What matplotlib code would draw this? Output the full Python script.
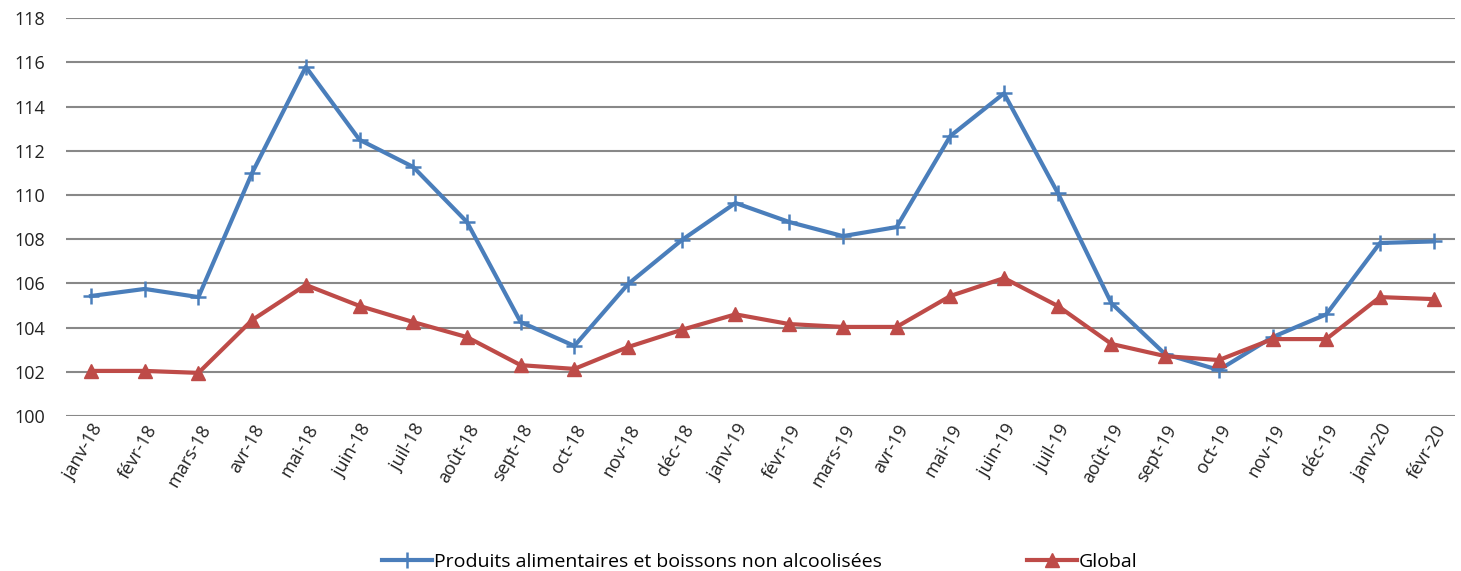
import numpy as np
import matplotlib
matplotlib.use("Agg")
import matplotlib.pyplot as plt

months = ["janv-18", "févr-18", "mars-18", "avr-18", "mai-18", "juin-18", "juil-18",
          "août-18", "sept-18", "oct-18", "nov-18", "déc-18", "janv-19", "févr-19",
          "mars-19", "avr-19", "mai-19", "juin-19", "juil-19", "août-19", "sept-19",
          "oct-19", "nov-19", "déc-19", "janv-20", "févr-20"]

alimentaires = [105.43, 105.75, 105.38, 111.0, 115.8, 112.5, 111.27, 108.78, 104.25,
                103.17, 105.97, 107.96, 109.64, 108.78, 108.14, 108.55, 112.67, 114.6,
                110.1, 105.1, 102.8, 102.08, 103.57, 104.6, 107.83, 107.9]

global_idx = [102.04, 102.04, 101.95, 104.34, 105.93, 104.98, 104.25, 103.57, 102.3,
              102.13, 103.12, 103.9, 104.6, 104.16, 104.03, 104.03, 105.43, 106.24,
              104.98, 103.26, 102.71, 102.53, 103.48, 103.48, 105.38, 105.29]

yticks = np.arange(100, 119, 2)

plt.rcParams['font.family'] = ['Open Sans', 'DejaVu Sans']

fig = plt.figure(figsize=(14.61, 5.71), dpi=100)
ax = fig.add_axes([0.045, 0.2715, 0.951, 0.6965])

x = np.arange(len(months))
ax.plot(x, alimentaires, color='#4A7EBB', lw=3, marker='+', ms=11, mew=1.8,
        label='Produits alimentaires et boissons non alcoolisées', zorder=3)
ax.plot(x, global_idx, color='#BE4B48', lw=3, marker='^', ms=10,
        label='Global', zorder=3)

ax.set_xlim(-0.47, len(months) - 0.6)
ax.set_ylim(100, 118)
ax.set_yticks(yticks)
ax.yaxis.grid(True, color='#888888', lw=1.5)
ax.set_axisbelow(True)
for s in ax.spines.values():
    s.set_visible(False)
ax.tick_params(axis='both', length=0, labelsize=13, colors='#222222')
ax.tick_params(axis='y', pad=15)
ax.tick_params(axis='x', pad=4)
ax.set_xticks(x)
ax.set_xticklabels(months, rotation=60, ha='right', rotation_mode='anchor')

fig.legend(loc='lower center', bbox_to_anchor=(0.52, -0.03), ncol=2, frameon=False,
           fontsize=14, columnspacing=7.5, handlelength=2.55, handletextpad=0.1)

fig.savefig('out.png', dpi=100)
